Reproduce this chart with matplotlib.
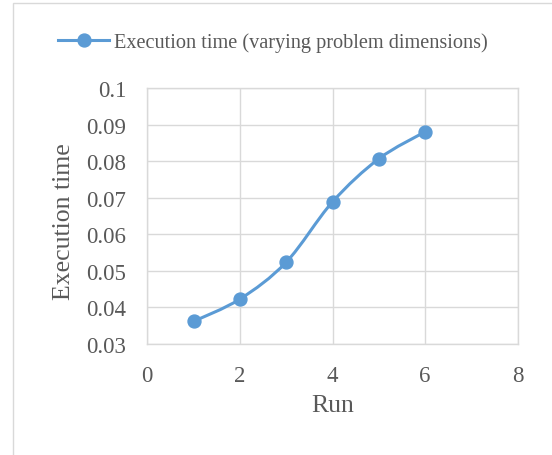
import numpy as np
import matplotlib.pyplot as plt
from matplotlib.path import Path
from matplotlib.patches import PathPatch, Rectangle
from matplotlib.lines import Line2D


# ----------------------------------------------------------------

runs = [1, 2, 3, 4, 5, 6]
exec_time = [0.0362, 0.0423, 0.0524, 0.0689, 0.0807, 0.0881]

x_ticks = [0, 2, 4, 6, 8]
y_ticks = [0.03, 0.04, 0.05, 0.06, 0.07, 0.08, 0.09, 0.1]
y_tick_labels = ['0.03', '0.04', '0.05', '0.06', '0.07', '0.08', '0.09', '0.1']

series_name = 'Execution time (varying problem dimensions)'

blue = '#5b9bd5'
grid_c = '#d9d9d9'
text_c = '#595959'

plt.rcParams['font.family'] = ['Liberation Serif', 'DejaVu Serif']


# ----------------------------------------------------------------


def smooth_path(x, y):
    # excel-ish smoothed line: cubic bezier with catmull-rom control points
    x = np.asarray(x, float)
    y = np.asarray(y, float)
    n = len(x)
    verts = [(x[0], y[0])]
    codes = [Path.MOVETO]
    for i in range(n - 1):
        i0 = max(i - 1, 0)
        i3 = min(i + 2, n - 1)
        c1 = (x[i] + (x[i + 1] - x[i0]) / 6, y[i] + (y[i + 1] - y[i0]) / 6)
        c2 = (x[i + 1] - (x[i3] - x[i]) / 6, y[i + 1] - (y[i3] - y[i]) / 6)
        verts += [c1, c2, (x[i + 1], y[i + 1])]
        codes += [Path.CURVE4] * 3
    return Path(verts, codes)


fig = plt.figure(figsize=(5.52, 4.56), dpi=100)

# chart border
fig.patches.append(Rectangle((13 / 552, -0.1), 1.2, 1 - 4 / 456 + 0.1,
                             transform=fig.transFigure, fill=False,
                             edgecolor=grid_c, linewidth=1.0))

ax = fig.add_axes([147.3 / 552, 111 / 456, 370.4 / 552, 255.7 / 456])

ax.add_patch(PathPatch(smooth_path(runs, exec_time), fill=False,
                       edgecolor=blue, linewidth=2.2, capstyle='round'))
ax.plot(runs, exec_time, linestyle='none', marker='o', markersize=9.3,
        color=blue)

ax.set_xlim(0, 8)
ax.set_ylim(0.03, 0.1)
ax.set_xticks(x_ticks)
ax.set_yticks(y_ticks)
ax.set_yticklabels(y_tick_labels)
ax.grid(True, color=grid_c, linewidth=1.0)
ax.set_axisbelow(True)
for s in ax.spines.values():
    s.set_color(grid_c)
    s.set_linewidth(1.0)
ax.tick_params(length=0, labelsize=16.5, colors=text_c)
ax.tick_params(axis='y', pad=15)
ax.tick_params(axis='x', pad=15)

ax.set_xlabel('Run', fontsize=18.5, color=text_c)
ax.set_ylabel('Execution time', fontsize=18.5, color=text_c)
ax.xaxis.set_label_coords(0.5, -0.197)
ax.yaxis.set_label_coords(-0.195, 0.483)

handle = Line2D([], [], color=blue, linewidth=2.2, marker='o',
                markersize=9.3)
fig.legend([handle], [series_name], loc='center',
           bbox_to_anchor=(273 / 552, 1 - 43 / 456), frameon=False,
           fontsize=14.6, labelcolor=text_c, handlelength=2.5,
           handletextpad=0.25)

fig.savefig('out.png', dpi=100)
